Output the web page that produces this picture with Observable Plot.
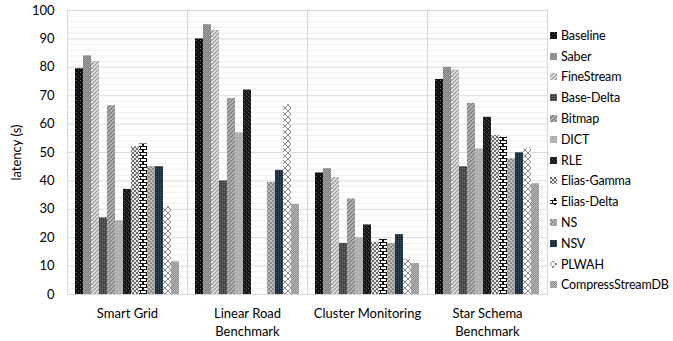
<!DOCTYPE html>
<html>
<head>
<meta charset="utf-8">
<script src="https://cdn.jsdelivr.net/npm/d3@7"></script>
<script src="https://cdn.jsdelivr.net/npm/@observablehq/plot@0.6"></script>
<style>
  body { margin: 0; background: #fff; font-family: Lato, "Noto Sans", sans-serif; }
  #wrap { position: relative; width: 673px; height: 341px; }
  #legend { position: absolute; left: 550px; top: 25px; font-size: 12.5px; letter-spacing: -0.15px; color: #000; }
  #legend .row { height: 20.8px; display: flex; align-items: center; white-space: nowrap; }
  #legend svg { margin-right: 4px; }
</style>
</head>
<body>
<svg width="0" height="0" style="position:absolute">
  <defs>
    <pattern id="p0" width="4" height="4" patternUnits="userSpaceOnUse">
      <rect width="4" height="4" fill="#0d0d0d"/><rect x="0" y="0" width="1" height="1" fill="#6a6a6a"/><rect x="2" y="2" width="1" height="1" fill="#4a4a4a"/>
    </pattern>
    <pattern id="p1" width="2" height="2" patternUnits="userSpaceOnUse">
      <rect width="2" height="2" fill="#7a7a7a"/><rect x="0" y="0" width="1" height="1" fill="#a6a6a6"/><rect x="1" y="1" width="1" height="1" fill="#a6a6a6"/>
    </pattern>
    <pattern id="p2" width="4" height="4" patternUnits="userSpaceOnUse">
      <rect width="4" height="4" fill="#ededed"/><path d="M-1,1 l2,-2 M0,4 l4,-4 M3,5 l2,-2" stroke="#9a9a9a" stroke-width="1.4"/>
    </pattern>
    <pattern id="p3" width="2" height="2" patternUnits="userSpaceOnUse">
      <rect width="2" height="2" fill="#454545"/><rect x="0" y="0" width="1" height="1" fill="#6e6e6e"/>
    </pattern>
    <pattern id="p4" width="4" height="4" patternUnits="userSpaceOnUse">
      <rect width="4" height="4" fill="#c2c2c2"/><path d="M-1,1 l2,-2 M0,4 l4,-4 M3,5 l2,-2" stroke="#7a7a7a" stroke-width="1.5"/>
    </pattern>
    <pattern id="p5" width="3" height="3" patternUnits="userSpaceOnUse">
      <rect width="3" height="3" fill="#b2aeae"/><rect x="1" y="1" width="1" height="1" fill="#cfcccc"/>
    </pattern>
    <pattern id="p6" width="4" height="4" patternUnits="userSpaceOnUse">
      <rect width="4" height="4" fill="#141414"/><rect x="0" y="0" width="1" height="1" fill="#5c5c5c"/><rect x="2" y="2" width="1" height="1" fill="#5c5c5c"/><rect x="1" y="1" width="1" height="1" fill="#333"/><rect x="3" y="3" width="1" height="1" fill="#333"/>
    </pattern>
    <pattern id="p7" width="4" height="4" patternUnits="userSpaceOnUse">
      <rect width="4" height="4" fill="#e6e6e6"/><rect x="0" y="0" width="2" height="2" fill="#6e6e6e"/><rect x="2" y="2" width="2" height="2" fill="#6e6e6e"/>
    </pattern>
    <pattern id="p8" width="6" height="6" patternUnits="userSpaceOnUse">
      <rect width="6" height="6" fill="#111"/><rect x="0" y="0" width="4" height="2" fill="#fff"/><rect x="3" y="3" width="4" height="2" fill="#fff"/><rect x="-3" y="3" width="5" height="2" fill="#fff"/>
    </pattern>
    <pattern id="p9" width="4" height="4" patternUnits="userSpaceOnUse">
      <rect width="4" height="4" fill="#bdbdbd"/><rect x="0" y="0" width="2" height="2" fill="#8a8a8a"/><rect x="2" y="2" width="2" height="2" fill="#8a8a8a"/>
    </pattern>
    <pattern id="p10" width="2" height="2" patternUnits="userSpaceOnUse">
      <rect width="2" height="2" fill="#1c2d3a"/><rect x="0" y="0" width="1" height="1" fill="#3a5466"/>
    </pattern>
    <pattern id="p11" width="6" height="6" patternUnits="userSpaceOnUse">
      <rect width="6" height="6" fill="#fff"/><path d="M3,0 L6,3 L3,6 L0,3 Z" fill="none" stroke="#8a8a8a" stroke-width="1"/>
    </pattern>
    <pattern id="p12" width="2" height="2" patternUnits="userSpaceOnUse">
      <rect width="2" height="2" fill="#8c8c8c"/><rect x="0" y="0" width="1" height="1" fill="#bababa"/><rect x="1" y="1" width="1" height="1" fill="#bababa"/>
    </pattern>
  </defs>
</svg>
<div id="wrap"><div id="chart"></div><div id="legend"></div></div>
<script>
const groups = ["Smart Grid", "Linear Road\nBenchmark", "Cluster Monitoring", "Star Schema\nBenchmark"];
const methods = ["Baseline", "Saber", "FineStream", "Base-Delta", "Bitmap", "DICT", "RLE", "Elias-Gamma", "Elias-Delta", "NS", "NSV", "PLWAH", "CompressStreamDB"];
const smartGrid = [79.5, 84, 82, 27, 66.5, 26, 37, 52, 53, 45, 45, 31, 11.5];
const linearRoad = [90, 95, 93, 40, 69, 57, 72, null, null, 39.5, 43.7, 66.8, 31.7];
const clusterMonitoring = [42.8, 44.3, 41.2, 18, 33.6, 20, 24.5, 18.4, 19.4, 18, 21.1, 12.4, 10.9];
const starSchema = [75.7, 80, 79, 45, 67.3, 51.3, 62.4, 56, 55.4, 47.8, 49.9, 51.3, 39];
const yTicks = [0, 10, 20, 30, 40, 50, 60, 70, 80, 90, 100];

const series = [smartGrid, linearRoad, clusterMonitoring, starSchema];
const patterns = methods.map((m, i) => `url(#p${i})`);
const data = [];
groups.forEach((g, gi) => methods.forEach((m, mi) => {
  const v = series[gi][mi];
  if (v != null) data.push({group: g, method: m, value: v});
}));
const minor = d3.range(0, 101, 2).filter(v => v % 10 !== 0);

const chart = Plot.plot({
  width: 673,
  height: 341,
  marginTop: 10,
  marginBottom: 47,
  marginLeft: 67,
  marginRight: 126,
  style: {fontFamily: "Lato, 'Noto Sans', sans-serif", fontSize: "13px", color: "#000", background: "#fff"},
  fx: {domain: groups, padding: 0, label: null},
  x: {domain: methods, paddingInner: 0, paddingOuter: 0.72, axis: null},
  y: {domain: [0, 100], label: null},
  color: {type: "ordinal", domain: methods, range: patterns},
  marks: [
    Plot.ruleY(minor, {stroke: "#efefef", strokeWidth: 1}),
    Plot.ruleY(yTicks, {stroke: "#d9d9d9", strokeWidth: 1}),
    Plot.frame({stroke: "#d9d9d9"}),
    Plot.barY(data, {fx: "group", x: "method", y: "value", fill: "method", inset: 0}),
    Plot.axisY({ticks: yTicks, tickSize: 0, tickPadding: 13, fontSize: 13, label: "latency (s)", labelAnchor: "center", labelArrow: "none", labelOffset: 56}),
    Plot.axisFx({anchor: "bottom", tickSize: 0, tickPadding: 11, fontSize: 13, label: null, lineHeight: 1.35})
  ]
});
document.getElementById("chart").appendChild(chart);

const legend = document.getElementById("legend");
methods.forEach((m, i) => {
  const row = document.createElement("div");
  row.className = "row";
  row.innerHTML = `<svg width="7" height="7"><rect width="7" height="7" fill="${patterns[i]}"/></svg><span>${m}</span>`;
  legend.appendChild(row);
});
</script>
</body>
</html>
